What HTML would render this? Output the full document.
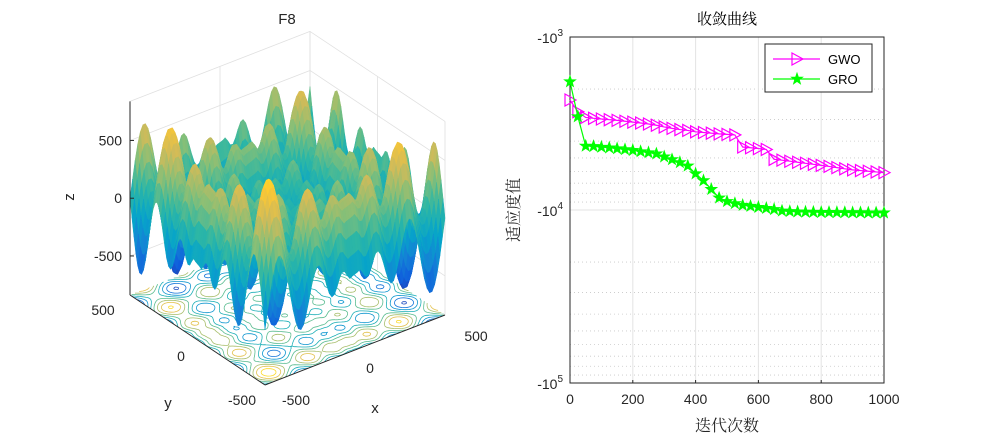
<!DOCTYPE html>
<html><head><meta charset="utf-8"><style>
body{margin:0;background:#fff;}
svg{display:block;font-family:"Liberation Sans","Noto Sans CJK SC",sans-serif;}
</style></head><body>
<svg id="fig" width="1000" height="437" viewBox="0 0 1000 437">
<rect width="1000" height="437" fill="#fff"/>
<g id="left"></g>
<g id="right"></g>
</svg>
<script>
// ---- convergence data (iterations every 25) ----
const iters = [0,25,50,75,100,125,150,175,200,225,250,275,300,325,350,375,400,425,450,475,500,525,550,575,600,625,650,675,700,725,750,775,800,825,850,875,900,925,950,975,1000];
const gwoVals = [-2312,-2704,-2917,-2951,-2979,-3006,-3034,-3069,-3105,-3141,-3184,-3236,-3311,-3373,-3428,-3467,-3532,-3565,-3597,-3631,-3656,-3681,-4325,-4365,-4416,-4467,-5093,-5152,-5224,-5297,-5370,-5445,-5521,-5598,-5689,-5781,-5861,-5916,-5970,-6026,-6081];
const groVals = [-1811,-2884,-4266,-4285,-4325,-4365,-4416,-4467,-4519,-4592,-4656,-4732,-4920,-5105,-5309,-5559,-6166,-6761,-7586,-8511,-8913,-9162,-9376,-9506,-9638,-9772,-9908,-10116,-10186,-10233,-10257,-10280,-10304,-10304,-10328,-10328,-10351,-10351,-10375,-10375,-10375];
const xTicks = [0,200,400,600,800,1000];
const yTickExp = [3,4,5];

const NS='http://www.w3.org/2000/svg';
function mk(p,tag,attrs,txt){const e=document.createElementNS(NS,tag);for(const k in attrs)e.setAttribute(k,attrs[k]);if(txt!==undefined)e.textContent=txt;p.appendChild(e);return e;}
const SERIF='"Liberation Serif","Noto Serif CJK SC",serif';

// ---- right chart ----
(function(){
const R=document.getElementById('right');
const L=570,Rr=884,T=37,B=383;
const sx=v=>L+(v/1000)*(Rr-L);
const sy=v=>T+(Math.log10(Math.abs(v))-3)/2*(B-T);
for(let d=3;d<5;d++)for(let m=2;m<=9;m++){const y=sy(-m*Math.pow(10,d));
 const g=mk(R,'line',{x1:L,x2:Rr,y1:y,y2:y,stroke:'#c8c8c8','stroke-width':0.8,'stroke-dasharray':'1,3'});
 }
xTicks.forEach(t=>{const x=sx(t);
 const g=mk(R,'line',{x1:x,x2:x,y1:T,y2:B,stroke:'#e3e3e3','stroke-width':1});
 
 mk(R,'line',{x1:x,x2:x,y1:B,y2:B-3,stroke:'#262626'});
 const tx=mk(R,'text',{x:x,y:B+21,'text-anchor':'middle','font-size':14,fill:'#262626'},String(t));
 });
yTickExp.forEach(e=>{const y=sy(-Math.pow(10,e));
 const g=mk(R,'line',{x1:L,x2:Rr,y1:y,y2:y,stroke:'#e3e3e3'});
 
 const tx=mk(R,'text',{x:563,y:y+6,'text-anchor':'end','font-size':14,fill:'#262626'});
 
 mk(tx,'tspan',{},'-10');mk(tx,'tspan',{dy:-7,'font-size':10},String(e));});
const ax=mk(R,'rect',{x:L,y:T,width:Rr-L,height:B-T,fill:'none',stroke:'#262626','stroke-width':1});

function series(vals,color,name,marker){
 const g=mk(R,'g',{});
 const pts=iters.map((t,i)=>sx(t)+','+sy(vals[i])).join(' ');
 mk(g,'polyline',{points:pts,fill:'none',stroke:color,'stroke-width':1.2});
 iters.forEach((t,i)=>{marker(g,sx(t),sy(vals[i]),color);});
}
function tri(g,x,y,c){const m=mk(g,'polygon',{points:`${x-5},${y-6} ${x+6},${y} ${x-5},${y+6}`,fill:'none',stroke:c,'stroke-width':1.2});
 }
function star(g,x,y,c){let p=[];for(let k=0;k<10;k++){const r=k%2?2.4:6,a=-Math.PI/2+k*Math.PI/5;p.push((x+r*Math.cos(a)).toFixed(1)+','+(y+r*Math.sin(a)).toFixed(1));}
 const m=mk(g,'polygon',{points:p.join(' '),fill:c,stroke:c,'stroke-width':0.8});
 }
series(gwoVals,'#ff00ff','gwo',tri);
series(groVals,'#00ff00','gro',star);
const lg=mk(R,'g',{});
mk(lg,'rect',{x:765,y:44,width:107,height:48,fill:'#fff',stroke:'#262626'});
mk(lg,'line',{x1:773,x2:820,y1:59,y2:59,stroke:'#ff00ff','stroke-width':1.2});tri(lg,797,59,'#ff00ff');
mk(lg,'text',{x:828,y:64,'font-size':13,fill:'#000'},'GWO');
mk(lg,'line',{x1:773,x2:820,y1:79,y2:79,stroke:'#00ff00','stroke-width':1.2});star(lg,797,79,'#00ff00');
mk(lg,'text',{x:828,y:84,'font-size':13,fill:'#000'},'GRO');
let t=mk(R,'text',{x:727,y:24,'text-anchor':'middle','font-size':15,fill:'#000','font-family':SERIF},'收敛曲线');
t=mk(R,'text',{x:727,y:431,'text-anchor':'middle','font-size':16,fill:'#262626','font-family':SERIF},'迭代次数');
t=mk(R,'text',{x:0,y:0,'text-anchor':'middle','font-size':16,fill:'#262626','font-family':SERIF,transform:'translate(519,210) rotate(-90)'},'适应度值');
})();

// ---- left 3D surface ----
(function(){
const G=document.getElementById('left');
const ZL=838;
const P=(x,y,z)=>[265+(x+500)*0.18-(y+500)*0.135, 385-(x+500)*0.07-(y+500)*0.09-(z+ZL)*0.1155];
const f=(x,y)=>-x*Math.sin(Math.sqrt(Math.abs(x)))-y*Math.sin(Math.sqrt(Math.abs(y)));
const stops=[[0,[53,42,135]],[0.125,[15,92,221]],[0.25,[20,129,214]],[0.375,[6,164,202]],[0.5,[46,183,164]],[0.625,[135,191,119]],[0.75,[209,187,89]],[0.875,[254,200,50]],[1,[249,251,14]]];
function cmap(t){t=Math.max(0,Math.min(1,t));for(let i=1;i<stops.length;i++){if(t<=stops[i][0]){const a=stops[i-1],b=stops[i],u=(t-a[0])/(b[0]-a[0]);return 'rgb('+a[1].map((c,k)=>Math.round(c+(b[1][k]-c)*u)).join(',')+')';}}return 'rgb(249,251,14)';}
const wall=mk(G,'g',{stroke:'#e0e0e0','stroke-width':0.8,fill:'none'});

const ln=(a,b)=>mk(wall,'line',{x1:a[0],y1:a[1],x2:b[0],y2:b[1]});
[-500,0,500].forEach(z=>{ln(P(-500,500,z),P(500,500,z));ln(P(500,500,z),P(500,-500,z));});
[-500,0,500].forEach(v=>{ln(P(v,500,-ZL),P(v,500,ZL));ln(P(500,v,-ZL),P(500,v,ZL));});
ln(P(500,500,ZL),P(500,500,-ZL));ln(P(-500,500,ZL),P(500,500,ZL));ln(P(500,500,ZL),P(500,-500,ZL));
const N=90,h=1000/N;
const Z=[];for(let i=0;i<=N;i++){Z[i]=[];for(let j=0;j<=N;j++)Z[i][j]=f(-500+i*h,-500+j*h);}
const cg=mk(G,'g',{fill:'none','stroke-width':0.8});
const levels=[];for(let l=-700;l<=700;l+=200)levels.push(l);
levels.forEach(lv=>{let d='';
 for(let i=0;i<N;i++)for(let j=0;j<N;j++){
  const c=[[i,j],[i+1,j],[i+1,j+1],[i,j+1]];const pts=[];
  for(let k=0;k<4;k++){const a=c[k],b=c[(k+1)%4];const za=Z[a[0]][a[1]],zb=Z[b[0]][b[1]];
   if((za<lv)!==(zb<lv)){const u=(lv-za)/(zb-za);pts.push(P(-500+(a[0]+(b[0]-a[0])*u)*h,-500+(a[1]+(b[1]-a[1])*u)*h,-ZL));}}
  for(let k=0;k+1<pts.length;k+=2)d+=`M${pts[k][0].toFixed(1)},${pts[k][1].toFixed(1)}L${pts[k+1][0].toFixed(1)},${pts[k+1][1].toFixed(1)}`;}
 mk(cg,'path',{d:d,stroke:cmap((lv+ZL)/(2*ZL))});});
const M=70,s=1000/M;const cells=[];
for(let i=0;i<M;i++)for(let j=0;j<M;j++)cells.push([i,j]);
cells.sort((a,b)=>(b[0]+b[1])-(a[0]+a[1]));
const sg=mk(G,'g',{});
cells.forEach(([i,j])=>{const xs=[-500+i*s,-500+(i+1)*s],ys=[-500+j*s,-500+(j+1)*s];
 const q=[[xs[0],ys[0]],[xs[1],ys[0]],[xs[1],ys[1]],[xs[0],ys[1]]];let zs=0;
 const pts=q.map(([x,y])=>{const z=f(x,y);zs+=z;const p=P(x,y,z);return p[0].toFixed(1)+','+p[1].toFixed(1);});
 const col=cmap((zs/4+ZL)/(2*ZL)*0.92);mk(sg,'polygon',{points:pts.join(' '),fill:col,stroke:col,'stroke-width':0.5});});
const ag=mk(G,'g',{stroke:'#262626','stroke-width':1});
const al=(a,b)=>mk(ag,'line',{x1:a[0],y1:a[1],x2:b[0],y2:b[1]});
al(P(-500,500,-ZL),P(-500,-500,-ZL));al(P(-500,-500,-ZL),P(500,-500,-ZL));al(P(-500,500,-ZL),P(-500,500,ZL));
const tx=(x,y,s,anchor,name,fs)=>{const e=mk(G,'text',{x:x,y:y,'text-anchor':anchor||'middle','font-size':fs||14,fill:'#262626'},s);};
[500,0,-500].forEach(z=>{const p=P(-500,500,z);al(p,[p[0]+4,p[1]]);tx(p[0]-8,p[1]+5,String(z),'end','z-tick-label');});
tx(103,315,'500','middle','y-tick-label');tx(181,361,'0','middle','y-tick-label');tx(242,405,'-500','middle','y-tick-label');
tx(296,405,'-500','middle','x-tick-label');tx(370,373,'0','middle','x-tick-label');tx(476,341,'500','middle','x-tick-label');
tx(168,408,'y','middle','y-axis-title',15);tx(375,413,'x','middle','x-axis-title',15);
const zt=mk(G,'text',{x:0,y:0,'text-anchor':'middle','font-size':15,fill:'#262626',transform:'translate(74,197) rotate(-90)'},'z');
tx(287,24,'F8','middle','surface-title',15);
})();
</script>
</body></html>
